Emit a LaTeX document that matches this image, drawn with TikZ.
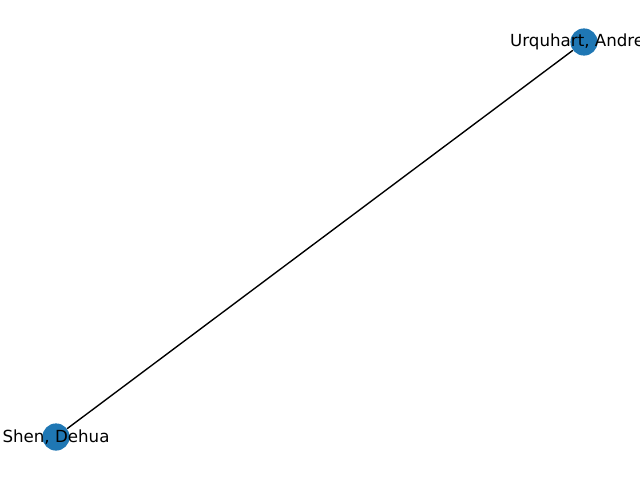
\documentclass[tikz,border=0pt]{standalone}
\usepackage{fontspec}
\setmainfont{DejaVu Sans}
\definecolor{nodeblue}{HTML}{1F77B4}
\begin{document}
\begin{tikzpicture}[x=0.75pt,y=0.75pt,
  vertex/.style={circle,fill=nodeblue,minimum size=20.4pt,inner sep=0pt},
  lbl/.style={font=\fontsize{12.5}{15}\selectfont,text=black,inner sep=0pt},
  edge/.style={draw=black,line width=1.04pt}]
\useasboundingbox (0,0) rectangle (640,480);
\clip (0,0) rectangle (640,480);
\node[vertex] (u) at (584,438) {};
\node[vertex] (s) at (56,43) {};
\draw[edge] (u) -- (s);
\node[lbl] (ul) at (u) {Urquhart, Andrew};
\node[lbl] (sl) at (s) {Shen, Dehua};
\end{tikzpicture}
\end{document}
